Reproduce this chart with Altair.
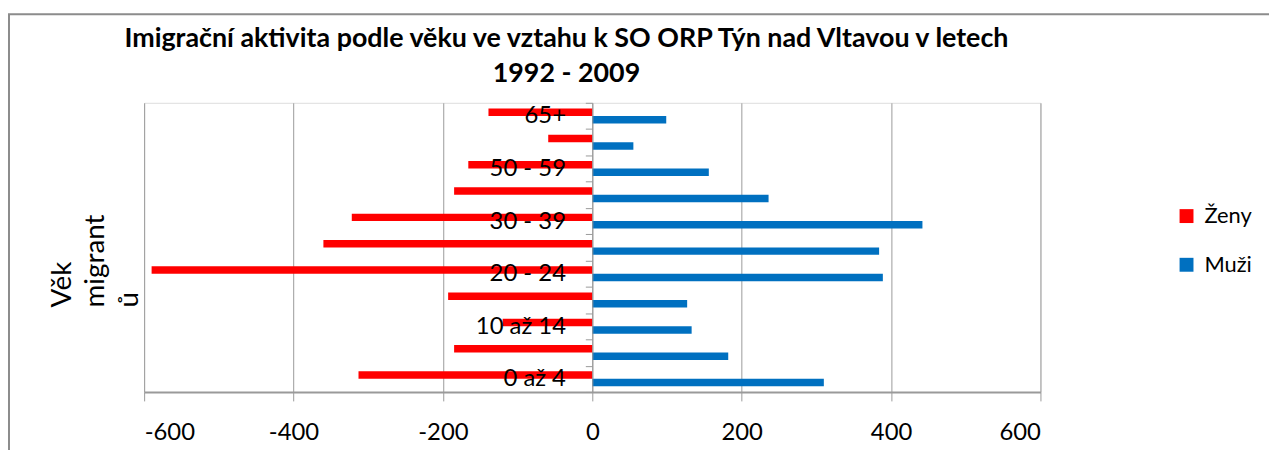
import altair as alt
import pandas as pd

categories = ["0 až 4", "5 až 9", "10 až 14", "15 až 19", "20 - 24", "25 - 29",
              "30 - 39", "40 - 49", "50 - 59", "60 - 64", "65+"]
zeny = [-313, -185, -120, -193, -590, -360, -322, -185, -166, -59, -139]
muzi = [310, 182, 133, 127, 389, 384, 442, 236, 156, 55, 99]
series = ["Ženy", "Muži"]
colors = ["#FF0000", "#0070C0"]
x_ticks = [-600, -400, -200, 0, 200, 400, 600]
shown_labels = categories[::2]

title_lines = ["Imigrační aktivita podle věku ve vztahu k SO ORP Týn nad Vltavou v letech",
               "1992 - 2009"]
y_title = ["Věk", "migrant", "ů"]

rows = []
for c, z, m in zip(categories, zeny, muzi):
    rows.append({"vek": c, "pohlavi": "Ženy", "hodnota": z})
    rows.append({"vek": c, "pohlavi": "Muži", "hodnota": m})
df = pd.DataFrame(rows)

W, H = 902, 291
FONT = "Lato"
GRAY = "#9a9a9a"

label_list = "[" + ",".join("'" + s + "'" for s in shown_labels) + "]"

bars = alt.Chart(df).mark_bar().encode(
    x=alt.X("hodnota:Q",
            scale=alt.Scale(domain=[-600, 600], nice=False, zero=False),
            axis=alt.Axis(values=x_ticks, title=None, grid=True, gridColor=GRAY,
                          gridWidth=1, domainColor=GRAY, domainWidth=2,
                          tickColor=GRAY, tickSize=9, labelPadding=20,
                          labelFontSize=24, labelColor="#000000", labelFont=FONT,
                          labelExpr="datum.value < 0 ? '-' + abs(datum.value) : '' + datum.value")),
    y=alt.Y("vek:N",
            scale=alt.Scale(domain=categories[::-1], paddingInner=0, paddingOuter=0),
            axis=alt.Axis(title=None, offset=-W / 2, zindex=1, tickBand="extent",
                          domainColor=GRAY, tickColor=GRAY, tickSize=7,
                          labelPadding=20, labelFontSize=24, labelColor="#000000",
                          labelFont=FONT,
                          labelExpr="indexof(" + label_list + ", datum.value) >= 0 ? datum.value : ''")),
    yOffset=alt.YOffset("pohlavi:N", sort=series,
                        scale=alt.Scale(domain=series, paddingInner=0, paddingOuter=0.76)),
    color=alt.Color("pohlavi:N",
                    scale=alt.Scale(domain=series, range=colors),
                    legend=alt.Legend(title=None, orient="none", legendX=1038, legendY=103,
                                      symbolType="square", symbolSize=196,
                                      symbolStrokeWidth=0, labelFontSize=22,
                                      labelFont=FONT, labelColor="#000000",
                                      rowPadding=27, padding=0, labelOffset=7)),
)

ytitle = alt.Chart(pd.DataFrame({"t": [0]})).mark_text(
    text=y_title, angle=270, align="left", baseline="top", fontSize=28,
    font=FONT, lineHeight=34, color="#000000"
).encode(x=alt.value(-96), y=alt.value(206))

title = alt.Chart(pd.DataFrame({"t": [0]})).mark_text(
    text=title_lines, align="center", baseline="middle", fontSize=27,
    font=FONT, fontWeight="bold", lineHeight=35, color="#000000"
).encode(x=alt.value(425), y=alt.value(-64))

border = alt.Chart(pd.DataFrame({"t": [0]})).mark_rect(
    fill=None, stroke="#8c8c8c", strokeWidth=2
).encode(x=alt.value(-136), x2=alt.value(1200), y=alt.value(-89), y2=alt.value(500))

chart = alt.layer(border, bars, ytitle, title).properties(
    width=W, height=H,
    autosize=alt.AutoSizeParams(type="none"),
    padding={"left": 137, "top": 94, "right": 230, "bottom": 57},
).configure_view(stroke=None).configure(background="white")

chart.save("out.html", embed_options={"renderer": "svg", "actions": False})
